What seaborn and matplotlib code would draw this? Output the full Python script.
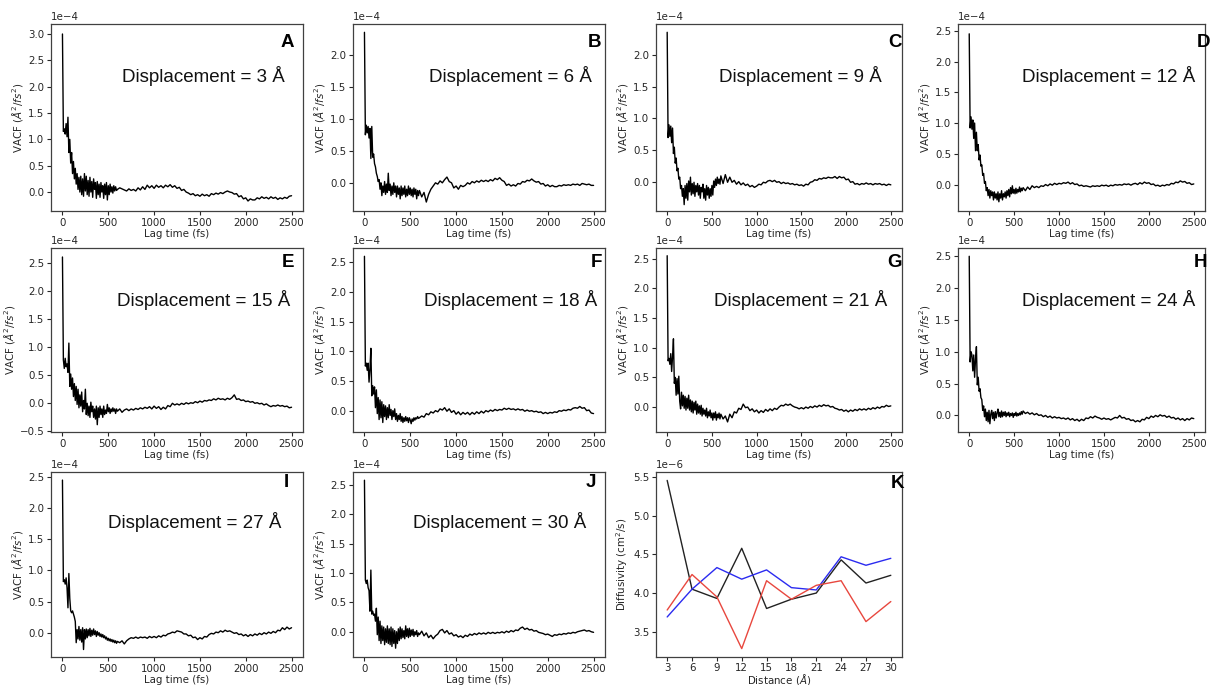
import numpy as np
import pandas as pd
import matplotlib
matplotlib.use("Agg")
import matplotlib.pyplot as plt
import seaborn as sns

# ---------------------------------------------------------------------------
# Velocity autocorrelation functions (units of 1e-4 A^2/fs^2).
# Early part sampled every 10 fs from 0 fs, late part every 25 fs from 600 fs.
# ---------------------------------------------------------------------------
displacements = [3, 6, 9, 12, 15, 18, 21, 24, 27, 30]
panel_letters = ["A", "B", "C", "D", "E", "F", "G", "H", "I", "J"]

vacf_early_03 = [3.00, 1.15, 1.20, 1.10, 1.30, 1.05, 1.42, 0.75, 1.00, 0.55,
                 0.75, 0.35, 0.58, 0.25, 0.45, 0.15, 0.35, 0.05, 0.28, 0.00,
                 0.30, -0.05, 0.25, -0.08, 0.35, 0.02, 0.30, -0.05, 0.22, -0.08,
                 0.28, 0.00, 0.20, -0.10, 0.25, 0.05, 0.18, -0.12, 0.20, -0.05,
                 0.15, -0.10, 0.18, 0.00, 0.12, -0.12, 0.15, -0.05, 0.18, -0.15,
                 0.12, -0.05, 0.15, 0.00, 0.10, -0.02, 0.12, 0.02, 0.10, 0.03]
vacf_late_03 = [0.05, 0.08, 0.06, 0.04, 0.02, 0.06, 0.03, 0.05, 0.02, 0.08,
                0.04, 0.10, 0.05, 0.13, 0.08, 0.12, 0.07, 0.13, 0.09, 0.12,
                0.08, 0.13, 0.10, 0.14, 0.09, 0.12, 0.07, 0.09, 0.03, 0.05,
                0.00, -0.02, -0.05, -0.03, -0.07, -0.05, -0.08, -0.04, -0.07, -0.05,
                -0.08, -0.03, -0.05, -0.02, -0.04, -0.01, -0.03, 0.00, 0.02, 0.00,
                -0.01, -0.04, -0.03, -0.09, -0.07, -0.13, -0.11, -0.17, -0.13, -0.15,
                -0.15, -0.11, -0.13, -0.09, -0.12, -0.10, -0.13, -0.09, -0.12, -0.10,
                -0.14, -0.11, -0.13, -0.10, -0.12, -0.08, -0.07]

vacf_early_06 = [2.35, 0.75, 0.90, 0.78, 0.88, 0.70, 0.85, 0.38, 0.88, 0.40,
                 0.45, 0.30, 0.25, 0.15, 0.10, 0.02, 0.05, -0.10, 0.00, -0.20,
                 -0.05, -0.15, 0.02, -0.18, -0.02, -0.15, 0.15, -0.12, -0.02, -0.20,
                 -0.05, -0.18, 0.00, -0.15, -0.05, -0.22, -0.05, -0.18, -0.08, -0.25,
                 -0.05, -0.20, -0.08, -0.18, -0.05, -0.22, -0.10, -0.20, -0.05, -0.18,
                 -0.08, -0.20, -0.10, -0.22, -0.08, -0.18, -0.10, -0.25, -0.12, -0.20]
vacf_late_06 = [-0.12, -0.22, -0.15, -0.30, -0.18, -0.10, -0.05, 0.00, -0.02, 0.03,
                0.00, 0.05, 0.09, 0.02, 0.00, -0.08, -0.05, -0.10, -0.04, -0.06,
                -0.04, 0.00, -0.02, 0.02, 0.00, 0.03, 0.01, 0.04, 0.02, 0.04,
                0.02, 0.05, 0.03, 0.07, 0.05, 0.08, 0.04, 0.02, -0.04, -0.02,
                -0.05, -0.03, -0.05, -0.01, -0.02, 0.02, 0.01, 0.04, 0.03, 0.06,
                0.03, 0.01, 0.02, -0.02, -0.01, -0.05, -0.03, -0.06, -0.04, -0.06,
                -0.06, -0.04, -0.05, -0.03, -0.04, -0.03, -0.04, -0.02, -0.03, -0.02,
                -0.04, -0.01, -0.02, -0.03, -0.02, -0.04, -0.04]

vacf_early_09 = [2.35, 0.70, 0.90, 0.72, 0.88, 0.62, 0.85, 0.45, 0.55, 0.30,
                 0.38, 0.18, 0.22, 0.05, 0.08, -0.10, -0.05, -0.22, -0.10, -0.35,
                 -0.05, -0.25, -0.02, -0.28, 0.02, -0.15, 0.08, -0.20, -0.02, -0.18,
                 0.00, -0.22, -0.05, -0.15, -0.02, -0.20, -0.05, -0.25, -0.08, -0.15,
                 -0.03, -0.25, -0.10, -0.28, -0.05, -0.20, -0.08, -0.25, -0.10, -0.22,
                 -0.05, -0.20, 0.02, -0.08, 0.05, -0.05, 0.08, -0.02, 0.05, -0.03]
vacf_late_09 = [0.10, -0.02, 0.12, 0.00, 0.08, 0.00, 0.03, -0.03, 0.01, -0.04,
                -0.01, -0.05, -0.03, -0.07, -0.05, -0.08, -0.06, -0.03, -0.04, 0.00,
                -0.01, 0.02, 0.03, 0.01, 0.03, 0.00, 0.01, -0.02, 0.00, -0.02,
                -0.01, -0.03, -0.02, -0.04, -0.03, -0.05, -0.04, -0.06, -0.03, -0.04,
                0.00, 0.01, 0.04, 0.03, 0.06, 0.05, 0.07, 0.06, 0.08, 0.07,
                0.07, 0.09, 0.06, 0.09, 0.07, 0.08, 0.04, 0.05, 0.00, 0.01,
                -0.03, -0.02, -0.04, -0.02, -0.03, -0.01, -0.03, -0.02, -0.04, -0.02,
                -0.03, -0.02, -0.04, -0.03, -0.05, -0.03, -0.04]

vacf_early_12 = [2.45, 0.92, 1.10, 0.90, 1.05, 0.75, 1.00, 0.55, 0.85, 0.55,
                 0.65, 0.40, 0.48, 0.30, 0.32, 0.15, 0.18, 0.02, 0.05, -0.10,
                 -0.05, -0.18, -0.08, -0.22, -0.10, -0.18, -0.12, -0.25, -0.12, -0.22,
                 -0.15, -0.25, -0.12, -0.28, -0.15, -0.22, -0.10, -0.25, -0.15, -0.20,
                 -0.12, -0.22, -0.10, -0.18, -0.08, -0.20, -0.05, -0.15, -0.02, -0.14,
                 -0.08, -0.15, -0.06, -0.14, -0.08, -0.12, -0.04, -0.12, -0.06, -0.10]
vacf_late_12 = [-0.05, -0.10, -0.04, -0.08, -0.02, -0.05, -0.03, -0.05, -0.02, -0.03,
                0.00, -0.02, 0.01, -0.01, 0.02, 0.00, 0.02, 0.01, 0.03, 0.02,
                0.04, 0.01, 0.03, 0.00, 0.01, -0.02, -0.01, -0.03, -0.02, -0.03,
                -0.04, -0.02, -0.03, -0.02, -0.03, -0.01, -0.02, -0.01, -0.03, -0.01,
                -0.02, 0.00, -0.01, 0.00, -0.01, 0.01, 0.00, 0.01, -0.01, 0.01,
                0.02, 0.00, 0.03, 0.01, 0.04, 0.02, 0.03, 0.00, 0.01, -0.02,
                -0.01, -0.03, -0.01, -0.02, 0.00, -0.01, 0.02, 0.01, 0.04, 0.03,
                0.06, 0.04, 0.05, 0.02, 0.03, 0.00, 0.01]

vacf_early_15 = [2.60, 0.77, 0.62, 0.80, 0.65, 0.70, 0.55, 1.07, 0.30, 0.52,
                 0.25, 0.45, 0.12, 0.35, 0.05, 0.30, -0.02, 0.25, -0.08, 0.15,
                 -0.05, 0.20, -0.15, 0.05, -0.10, 0.25, -0.20, 0.00, -0.22, -0.05,
                 -0.25, 0.02, -0.15, -0.05, -0.25, -0.10, -0.28, -0.05, -0.38, -0.08,
                 -0.25, -0.05, -0.20, -0.10, -0.25, -0.05, -0.20, -0.12, -0.18, -0.02,
                 -0.15, -0.08, -0.18, -0.10, -0.15, -0.08, -0.14, -0.10, -0.18, -0.10]
vacf_late_15 = [-0.14, -0.10, -0.16, -0.12, -0.10, -0.13, -0.10, -0.12, -0.09, -0.11,
                -0.08, -0.10, -0.07, -0.09, -0.06, -0.10, -0.05, -0.09, -0.06, -0.11,
                -0.07, -0.10, -0.04, -0.06, 0.00, -0.03, -0.01, -0.03, 0.00, -0.02,
                0.01, -0.01, 0.01, 0.00, 0.03, 0.01, 0.04, 0.02, 0.05, 0.04,
                0.06, 0.05, 0.08, 0.06, 0.09, 0.07, 0.08, 0.06, 0.09, 0.07,
                0.10, 0.15, 0.07, 0.08, 0.05, 0.06, 0.03, 0.04, 0.02, 0.03,
                0.00, 0.01, -0.01, 0.00, -0.03, -0.01, -0.04, -0.06, -0.04, -0.05,
                -0.03, -0.05, -0.04, -0.06, -0.05, -0.08, -0.07]

vacf_early_18 = [2.60, 0.75, 0.80, 0.68, 0.80, 0.48, 0.70, 1.05, 0.25, 0.42,
                 0.28, 0.40, 0.05, 0.35, -0.05, 0.22, -0.15, 0.18, -0.12, 0.15,
                 -0.20, 0.10, -0.10, 0.08, -0.15, 0.05, -0.12, 0.10, -0.08, 0.02,
                 -0.15, 0.00, -0.10, 0.03, -0.15, -0.05, -0.18, -0.08, -0.15, -0.05,
                 -0.18, -0.10, -0.20, -0.12, -0.18, -0.10, -0.17, -0.12, -0.20, -0.12,
                 -0.16, -0.22, -0.14, -0.18, -0.12, -0.16, -0.12, -0.14, -0.10, -0.13]
vacf_late_18 = [-0.12, -0.09, -0.11, -0.05, -0.07, -0.02, -0.04, 0.00, -0.02, 0.03,
                0.01, 0.05, -0.01, 0.03, -0.03, 0.00, -0.06, -0.02, -0.07, -0.03,
                -0.06, -0.03, -0.07, -0.03, -0.06, -0.02, -0.05, -0.01, -0.04, 0.00,
                -0.02, 0.01, -0.01, 0.02, 0.00, 0.02, 0.01, 0.04, 0.02, 0.04,
                0.02, 0.03, 0.01, 0.03, 0.01, 0.02, -0.01, 0.01, -0.01, 0.00,
                -0.02, -0.01, -0.03, -0.02, -0.05, -0.03, -0.05, -0.03, -0.04, -0.02,
                -0.03, 0.00, -0.01, 0.01, 0.00, 0.02, 0.01, 0.04, 0.05, 0.04,
                0.07, 0.04, 0.05, 0.00, 0.01, -0.04, -0.05]

vacf_early_21 = [2.55, 0.78, 0.82, 0.72, 0.90, 0.60, 0.85, 1.15, 0.40, 0.50,
                 0.20, 0.48, 0.22, 0.52, 0.10, -0.03, 0.25, 0.02, 0.20, -0.02,
                 0.18, -0.05, 0.15, -0.02, 0.20, -0.05, 0.12, -0.08, 0.10, -0.10,
                 0.08, -0.05, 0.10, -0.12, 0.05, -0.10, 0.02, -0.12, 0.03, -0.15,
                 -0.02, -0.12, -0.05, -0.15, -0.02, -0.18, -0.08, -0.15, -0.05, -0.18,
                 -0.10, -0.22, -0.10, -0.18, -0.08, -0.22, -0.12, -0.18, -0.10, -0.20]
vacf_late_21 = [-0.12, -0.20, -0.15, -0.25, -0.12, -0.18, -0.08, -0.10, -0.02, -0.04,
                0.05, -0.01, 0.00, -0.06, -0.03, -0.08, -0.05, -0.10, -0.06, -0.09,
                -0.04, -0.07, -0.03, -0.06, -0.02, -0.04, 0.00, 0.03, 0.02, 0.05,
                0.03, 0.05, 0.02, 0.00, -0.01, -0.03, -0.01, -0.03, 0.00, -0.02,
                0.01, -0.01, 0.02, 0.00, 0.03, 0.01, 0.04, 0.02, 0.03, 0.00,
                0.01, -0.02, -0.03, -0.05, -0.04, -0.07, -0.05, -0.08, -0.05, -0.07,
                -0.04, -0.06, -0.03, -0.05, -0.03, -0.05, -0.02, -0.04, -0.01, -0.03,
                0.00, -0.02, 0.01, 0.00, 0.03, 0.01, 0.02]

vacf_early_24 = [2.50, 0.84, 1.00, 0.95, 0.70, 0.95, 0.60, 0.88, 1.08, 0.48,
                 0.60, 0.38, 0.42, 0.28, 0.25, 0.08, 0.15, -0.02, 0.10, -0.08,
                 0.05, -0.10, 0.08, -0.13, 0.02, 0.08, -0.05, 0.05, -0.08, 0.06,
                 -0.04, 0.04, 0.10, -0.02, 0.05, -0.03, 0.07, -0.02, 0.05, 0.00,
                 0.06, -0.02, 0.04, 0.00, 0.05, -0.02, 0.03, 0.00, 0.04, -0.03,
                 0.03, 0.00, 0.05, -0.01, 0.03, 0.00, 0.04, 0.01, 0.06, 0.02]
vacf_late_24 = [0.07, 0.03, 0.05, 0.02, 0.04, 0.01, 0.03, 0.00, 0.01, -0.02,
                0.00, -0.03, -0.01, -0.04, -0.02, -0.04, -0.03, -0.05, -0.04, -0.06,
                -0.04, -0.07, -0.05, -0.08, -0.06, -0.09, -0.06, -0.08, -0.04, -0.05,
                -0.02, -0.04, -0.01, -0.03, -0.04, -0.06, -0.04, -0.06, -0.05, -0.07,
                -0.05, -0.03, -0.04, 0.00, -0.04, -0.03, -0.06, -0.05, -0.08, -0.07,
                -0.10, -0.08, -0.10, -0.06, -0.07, -0.03, -0.05, -0.01, -0.03, 0.00,
                -0.02, 0.01, -0.01, 0.00, -0.03, -0.01, -0.04, -0.03, -0.06, -0.04,
                -0.07, -0.05, -0.08, -0.05, -0.07, -0.04, -0.05]

vacf_early_27 = [2.45, 0.82, 0.85, 0.78, 0.88, 0.72, 0.40, 0.95, 0.55, 0.35,
                 0.32, 0.35, 0.30, 0.25, 0.18, -0.16, 0.05, -0.10, 0.10, -0.12,
                 0.05, -0.15, 0.08, -0.27, 0.05, -0.10, 0.06, -0.08, 0.05, -0.05,
                 0.07, -0.06, 0.04, -0.04, 0.06, -0.03, 0.03, -0.06, 0.02, -0.04,
                 0.00, -0.06, -0.02, -0.07, -0.03, -0.08, -0.05, -0.10, -0.07, -0.12,
                 -0.09, -0.13, -0.10, -0.14, -0.11, -0.15, -0.12, -0.16, -0.13, -0.17]
vacf_late_27 = [-0.14, -0.16, -0.13, -0.18, -0.13, -0.10, -0.08, -0.09, -0.07, -0.09,
                -0.07, -0.08, -0.07, -0.09, -0.06, -0.08, -0.06, -0.08, -0.05, -0.07,
                -0.04, -0.05, -0.02, -0.01, 0.01, 0.00, 0.03, 0.02, 0.01, -0.02,
                -0.02, -0.05, -0.04, -0.08, -0.07, -0.11, -0.08, -0.10, -0.06, -0.07,
                -0.03, -0.01, -0.02, 0.01, 0.00, 0.03, 0.01, 0.04, 0.02, 0.03,
                0.01, -0.01, 0.00, -0.03, -0.02, -0.05, -0.03, -0.06, -0.03, -0.05,
                -0.02, -0.04, -0.01, -0.03, 0.00, -0.02, 0.01, -0.01, 0.02, 0.00,
                0.04, 0.03, 0.08, 0.05, 0.09, 0.06, 0.08]

vacf_early_30 = [2.58, 0.88, 0.82, 0.88, 0.75, 0.70, 0.35, 1.05, 0.30, 0.35,
                 0.28, 0.30, 0.18, 0.40, -0.05, 0.25, -0.15, 0.18, -0.20, 0.10,
                 -0.15, 0.08, -0.22, 0.05, -0.18, 0.10, -0.20, 0.05, -0.22, 0.08,
                 -0.25, 0.05, -0.20, 0.02, -0.28, 0.00, -0.20, 0.05, -0.15, 0.08,
                 -0.12, 0.05, -0.10, 0.02, -0.12, 0.10, -0.08, 0.05, -0.10, 0.06,
                 -0.08, 0.03, -0.06, 0.04, -0.08, 0.00, -0.05, 0.02, -0.08, -0.02]
vacf_late_30 = [-0.05, 0.01, -0.07, -0.02, -0.10, -0.06, -0.12, -0.07, -0.04, 0.02,
                0.04, -0.02, 0.02, -0.04, -0.02, -0.07, -0.05, -0.09, -0.07, -0.10,
                -0.06, -0.08, -0.04, -0.06, -0.03, -0.05, -0.02, -0.04, -0.02, -0.04,
                -0.01, -0.03, -0.01, -0.03, -0.01, -0.02, 0.00, -0.02, 0.01, -0.01,
                0.02, 0.00, 0.03, 0.02, 0.06, 0.08, 0.04, 0.06, 0.03, 0.04,
                0.01, 0.02, -0.01, -0.02, -0.03, -0.05, -0.04, -0.06, -0.08, -0.05,
                -0.06, -0.04, -0.05, -0.03, -0.04, -0.02, -0.03, -0.01, -0.02, 0.00,
                0.01, 0.02, 0.03, 0.01, 0.02, 0.00, -0.01]

vacf_early = [vacf_early_03, vacf_early_06, vacf_early_09, vacf_early_12, vacf_early_15,
              vacf_early_18, vacf_early_21, vacf_early_24, vacf_early_27, vacf_early_30]
vacf_late = [vacf_late_03, vacf_late_06, vacf_late_09, vacf_late_12, vacf_late_15,
             vacf_late_18, vacf_late_21, vacf_late_24, vacf_late_27, vacf_late_30]

# y-ranges of the VACF panels (units of 1e-4)
vacf_ylims = [(-0.36, 3.19), (-0.44, 2.48), (-0.45, 2.48), (-0.43, 2.61), (-0.51, 2.76),
              (-0.36, 2.74), (-0.42, 2.68), (-0.26, 2.63), (-0.39, 2.58), (-0.43, 2.72)]

# ---------------------------------------------------------------------------
# Diffusivity vs distance (units of 1e-6 cm^2/s)
# ---------------------------------------------------------------------------
distance = [3, 6, 9, 12, 15, 18, 21, 24, 27, 30]
diff_black = [5.46, 4.05, 3.93, 4.58, 3.80, 3.92, 4.00, 4.43, 4.13, 4.23]
diff_blue = [3.69, 4.05, 4.33, 4.18, 4.30, 4.07, 4.04, 4.47, 4.36, 4.45]
diff_red = [3.78, 4.24, 3.95, 3.28, 4.16, 3.92, 4.10, 4.16, 3.63, 3.89]

# ---------------------------------------------------------------------------
sns.set_style("ticks")
plt.rcParams["font.family"] = ["DejaVu Sans"]
plt.rcParams["mathtext.fontset"] = "dejavusans"

TICK_FS = 7.4
LABEL_FS = 7.4
BIG_FS = 13.5
TEXT_FONT = ["Liberation Sans", "DejaVu Sans"]

W, H = 1212, 685
fig = plt.figure(figsize=(W / 100, H / 100), dpi=100)

col_px = [(51, 303), (353, 605), (656, 902), (958, 1205)]
row_px = [(24, 211), (248, 432), (472, 657)]


def make_axes(r, c):
    x0, x1 = col_px[c]
    y0, y1 = row_px[r]
    return fig.add_axes([x0 / W, 1 - y1 / H, (x1 - x0) / W, (y1 - y0) / H])


def style_axes(ax):
    ax.tick_params(labelsize=TICK_FS, length=3, width=0.8, pad=1.8)
    ax.yaxis.get_offset_text().set_fontsize(TICK_FS)
    for s in ax.spines.values():
        s.set_linewidth(0.9)
        s.set_color(".25")


# text placement per panel (axes fraction)
disp_x = [0.28, 0.30, 0.256, 0.26, 0.26, 0.28, 0.236, 0.26, 0.226, 0.24]
disp_y = [0.72, 0.72, 0.72, 0.72, 0.72, 0.72, 0.72, 0.72, 0.73, 0.73]
letter_x = [0.965, 0.985, 1.0, 1.02, 0.965, 0.99, 1.0, 1.01, 0.945, 0.965]
letter_y = [0.90, 0.90, 0.90, 0.90, 0.92, 0.92, 0.92, 0.92, 0.945, 0.945]

VACF_UNIT = 1e-4
for i, d in enumerate(displacements):
    r, c = divmod(i, 4)
    ax = make_axes(r, c)
    early = vacf_early[i]
    late = vacf_late[i]
    lag = [10 * k for k in range(len(early))] + [600 + 25 * k for k in range(len(late))]
    vals = np.array(early + late) * VACF_UNIT
    df = pd.DataFrame({"lag": lag, "vacf": vals})
    sns.lineplot(data=df, x="lag", y="vacf", ax=ax, color="black", lw=1.0,
                 estimator=None, sort=False)
    ax.set_ylim(vacf_ylims[i][0] * VACF_UNIT, vacf_ylims[i][1] * VACF_UNIT)
    ax.set_xticks([0, 500, 1000, 1500, 2000, 2500])
    ax.ticklabel_format(axis="y", style="sci", scilimits=(0, 0))
    ax.set_xlabel("Lag time (fs)", fontsize=LABEL_FS, labelpad=1)
    ax.set_ylabel(r"VACF ($\AA^2/fs^2$)", fontsize=LABEL_FS, labelpad=2)
    style_axes(ax)
    ax.text(disp_x[i], disp_y[i], f"Displacement = {d} Å", transform=ax.transAxes,
            ha="left", va="center", fontsize=BIG_FS, family=TEXT_FONT, color="#111111")
    ax.text(letter_x[i], letter_y[i], panel_letters[i], transform=ax.transAxes,
            ha="right", va="center", fontsize=BIG_FS, fontweight="bold",
            family=TEXT_FONT, color="black")

# Panel K: diffusivity
axk = make_axes(2, 2)
DIFF_UNIT = 1e-6
diff_df = pd.DataFrame({
    "distance": distance * 3,
    "diffusivity": np.array(diff_black + diff_blue + diff_red) * DIFF_UNIT,
    "series": ["black"] * 10 + ["blue"] * 10 + ["red"] * 10,
})
sns.lineplot(data=diff_df, x="distance", y="diffusivity", hue="series", ax=axk,
             palette={"black": "#222222", "blue": "#2b2bf0", "red": "#e8473e"},
             lw=1.0, legend=False, estimator=None)
axk.set_xticks(distance)
axk.ticklabel_format(axis="y", style="sci", scilimits=(0, 0))
style_axes(axk)
axk.tick_params(axis="x", pad=1.2)
axk.set_xlabel(r"Distance ($\AA$)", fontsize=LABEL_FS, labelpad=-0.5)
axk.set_ylabel(r"Diffusivity (cm$^2$/s)", fontsize=LABEL_FS, labelpad=2)
axk.text(1.01, 0.94, "K", transform=axk.transAxes, ha="right", va="center",
         fontsize=BIG_FS, fontweight="bold", family=TEXT_FONT, color="black")

fig.savefig("out.png", dpi=100)
